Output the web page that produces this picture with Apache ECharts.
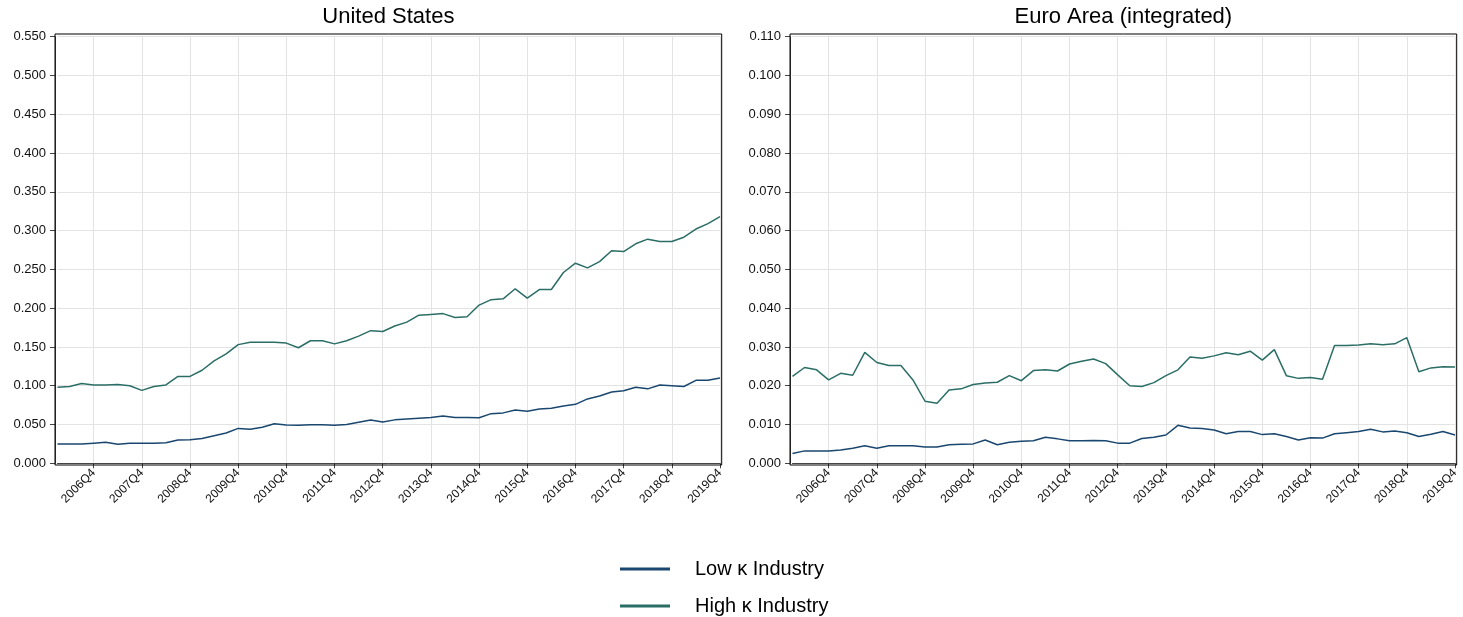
<!DOCTYPE html>
<html>
<head>
<meta charset="utf-8">
<script src="https://cdn.jsdelivr.net/npm/echarts@6/dist/echarts.min.js"></script>
<style>
  html, body { margin: 0; padding: 0; background: #fff; }
  #chart { width: 1463px; height: 617px; }
</style>
</head>
<body>
<div id="chart"></div>
<script>
const quarters = [
  "2006Q1","2006Q2","2006Q3","2006Q4","2007Q1","2007Q2","2007Q3","2007Q4",
  "2008Q1","2008Q2","2008Q3","2008Q4","2009Q1","2009Q2","2009Q3","2009Q4",
  "2010Q1","2010Q2","2010Q3","2010Q4","2011Q1","2011Q2","2011Q3","2011Q4",
  "2012Q1","2012Q2","2012Q3","2012Q4","2013Q1","2013Q2","2013Q3","2013Q4",
  "2014Q1","2014Q2","2014Q3","2014Q4","2015Q1","2015Q2","2015Q3","2015Q4",
  "2016Q1","2016Q2","2016Q3","2016Q4","2017Q1","2017Q2","2017Q3","2017Q4",
  "2018Q1","2018Q2","2018Q3","2018Q4","2019Q1","2019Q2","2019Q3","2019Q4"
];

const usLow = [
  0.025,0.025,0.025,0.026,0.027,0.0245,0.026,0.0258,
  0.026,0.0266,0.030,0.0305,0.032,0.0356,0.039,0.045,
  0.0438,0.0464,0.051,0.0494,0.049,0.0498,0.0498,0.049,
  0.050,0.053,0.0558,0.0533,0.056,0.057,0.058,0.059,
  0.061,0.059,0.059,0.0588,0.064,0.065,0.0687,0.067,
  0.070,0.071,0.074,0.076,0.083,0.0867,0.092,0.0936,
  0.098,0.096,0.101,0.100,0.099,0.107,0.107,0.110
];
const usHigh = [
  0.098,0.099,0.103,0.101,0.101,0.1015,0.100,0.094,
  0.099,0.101,0.112,0.112,0.120,0.132,0.141,0.153,
  0.156,0.156,0.156,0.155,0.149,0.158,0.158,0.154,
  0.158,0.164,0.171,0.170,0.177,0.182,0.191,0.192,
  0.193,0.188,0.189,0.204,0.211,0.212,0.225,0.213,
  0.224,0.224,0.246,0.258,0.252,0.260,0.274,0.273,
  0.283,0.289,0.286,0.286,0.2915,0.302,0.309,0.318
];
const euLow = [
  0.0025,0.0032,0.0032,0.0032,0.0034,0.0039,0.0045,0.0039,
  0.0045,0.0045,0.0045,0.0042,0.0042,0.0048,0.0049,0.0050,
  0.0060,0.0048,0.0054,0.0057,0.0058,0.0067,0.0063,0.0058,
  0.0058,0.0059,0.0058,0.0052,0.0052,0.0064,0.0067,0.0073,
  0.0098,0.0091,0.0090,0.0086,0.0076,0.0082,0.0082,0.0074,
  0.0076,0.0069,0.0060,0.0066,0.0065,0.0076,0.0079,0.0082,
  0.0088,0.0081,0.0083,0.0079,0.0069,0.0075,0.0082,0.0073
];
const euHigh = [
  0.0224,0.0247,0.0241,0.0215,0.0232,0.0227,0.0286,0.0260,
  0.0252,0.0252,0.0215,0.0160,0.0155,0.0189,0.0192,0.0203,
  0.0207,0.0209,0.0226,0.0213,0.0239,0.0241,0.0238,0.0256,
  0.0263,0.0269,0.0257,0.0228,0.0200,0.0198,0.0208,0.0226,
  0.0241,0.0274,0.0271,0.0277,0.0285,0.0280,0.0289,0.0266,
  0.0293,0.0226,0.0219,0.0221,0.0217,0.0304,0.0304,0.0305,
  0.0308,0.0306,0.0308,0.0324,0.0236,0.0246,0.0249,0.0248
];

const panelTitles = ["United States", "Euro Area (integrated)"];
const seriesNames = ["Low \u03BA Industry", "High \u03BA Industry"];
const yMax = [0.55, 0.11];
const yStep = [0.05, 0.01];

const colLow = "#1a476f";
const colHigh = "#2b6e66";
const FONT = "'Liberation Sans', Arial, sans-serif";

const chart = echarts.init(document.getElementById("chart"), null, { renderer: "canvas" });

const panels = [
  { left: 57.5, frameLeft: 55 },
  { left: 792.5, frameLeft: 790 }
];
const gridTop = 36.7, gridH = 426.6, gridW = 662.5;
const frameTop = 34, frameH = 431, frameW = 666.7;
const legendTops = [554, 591];

const showQ4 = (i) => i % 4 === 3;

const option = {
  animation: false,
  backgroundColor: "#fff",
  textStyle: { fontFamily: FONT },
  title: panels.map((p, k) => ({
    text: panelTitles[k],
    left: p.frameLeft + frameW / 2,
    top: 6,
    padding: 0,
    textAlign: "center",
    textStyle: { fontFamily: FONT, fontSize: 22, fontWeight: "normal", color: "#000" }
  })),
  grid: panels.map(p => ({ left: p.left, top: gridTop, width: gridW, height: gridH, containLabel: false })),
  xAxis: panels.map((p, k) => ({
    type: "category",
    gridIndex: k,
    data: quarters,
    boundaryGap: false,
    offset: 1.7,
    axisLine: { show: true, lineStyle: { color: "#444", width: 1 } },
    axisTick: { show: true, interval: showQ4, length: 5, lineStyle: { color: "#444" } },
    axisLabel: { interval: showQ4, rotate: 45, fontSize: 12, color: "#111", margin: 6, fontFamily: FONT },
    splitLine: { show: true, interval: showQ4, lineStyle: { color: "#e3e3e3", width: 1 } }
  })),
  yAxis: panels.map((p, k) => ({
    type: "value",
    gridIndex: k,
    min: 0,
    max: yMax[k],
    interval: yStep[k],
    offset: 2.5,
    axisLine: { show: true, lineStyle: { color: "#444", width: 1 } },
    axisTick: { show: true, length: 5, lineStyle: { color: "#444" } },
    axisLabel: { fontSize: 13, color: "#111", margin: 9, fontFamily: FONT, formatter: v => v.toFixed(3) },
    splitLine: { show: true, lineStyle: { color: "#e3e3e3", width: 1 } }
  })),
  legend: seriesNames.map((n, k) => ({
    orient: "vertical",
    left: 615,
    top: legendTops[k],
    itemWidth: 50,
    itemHeight: 3,
    icon: "rect",
    data: [n],
    textStyle: { fontFamily: FONT, fontSize: 20, color: "#000", padding: [0, 0, 0, 20] }
  })),
  graphic: panels.map(p => ({
    type: "rect",
    shape: { x: p.frameLeft, y: frameTop, width: frameW, height: frameH },
    style: { fill: "none", stroke: "#000", lineWidth: 1 },
    z: 100,
    silent: true
  })),
  series: [
    { name: seriesNames[0], type: "line", xAxisIndex: 0, yAxisIndex: 0, data: usLow, color: colLow },
    { name: seriesNames[1], type: "line", xAxisIndex: 0, yAxisIndex: 0, data: usHigh, color: colHigh },
    { name: seriesNames[0], type: "line", xAxisIndex: 1, yAxisIndex: 1, data: euLow, color: colLow },
    { name: seriesNames[1], type: "line", xAxisIndex: 1, yAxisIndex: 1, data: euHigh, color: colHigh }
  ].map(s => Object.assign(s, {
    showSymbol: false,
    symbol: "none",
    lineStyle: { width: 1.5, color: s.color },
    itemStyle: { color: s.color }
  }))
};

chart.setOption(option);
</script>
</body>
</html>
